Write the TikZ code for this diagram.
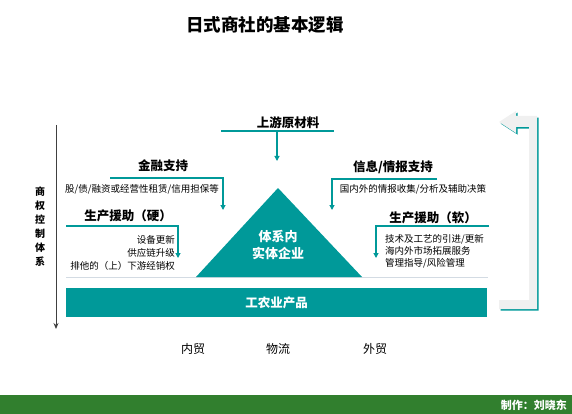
\documentclass[tikz,border=0pt]{standalone}
\usepackage{fontspec}
\setmainfont{Noto Sans CJK SC}
\usetikzlibrary{arrows.meta}
\definecolor{tealc}{HTML}{009999}
\definecolor{greenc}{HTML}{317F2E}
\definecolor{rulec}{HTML}{D3DBE3}
\definecolor{backc}{HTML}{F0F0F0}
\tikzset{
	ttl/.style={font=\fontsize{17.5}{20}\selectfont\bfseries, inner sep=0pt},
	head/.style={font=\fontsize{12.5}{15}\selectfont\bfseries, inner sep=0pt},
	body/.style={font=\fontsize{9.5}{13}\selectfont, inner sep=0pt},
	link/.style={draw=tealc, line width=1.1pt},
	linkarr/.style={link, -{Triangle[length=5pt,width=5pt]}},
	white label/.style={text=white, font=\fontsize{12.5}{17}\selectfont\bfseries, inner sep=0pt, align=center}
}
\begin{document}
\begin{tikzpicture}[x=1pt,y=-1pt]
	\useasboundingbox (0,0) rectangle (572,414);
	% title
	\node[ttl] (title) at (265,25) {日式商社的基本逻辑};
	% upstream
	\node[head] (up) at (288,123) {上游原材料};
	\coordinate (up-l) at (221,131);
	\coordinate (up-r) at (334,131);
	\coordinate (up-m) at (277,131);
	\coordinate (up-e) at (277,161);
	\draw[link] (up-l) -- (up-r);
	\draw[linkarr] (up-m) -- (up-e);
	% base rule and core triangle
	\draw[rulec, line width=1pt] (66,277) -- (488,277);
	\fill[tealc] (196,277) -- (278,188) -- (362,277) -- cycle;
	\node[white label, font=\fontsize{13}{17}\selectfont\bfseries] (core) at (278,245) {体系内\\实体企业};
	% product bar
	\node[fill=tealc, minimum width=421pt, minimum height=29pt, inner sep=0pt, text=white, font=\fontsize{12.5}{15}\selectfont\bfseries] (prod) at (276.5,302.5) {工农业产品};
	% finance
	\node[head] (fin) at (163,166) {金融支持};
	\coordinate (fin-l) at (110,178);
	\coordinate (fin-r) at (223,178);
	\coordinate (fin-e) at (223,210);
	\draw[linkarr] (fin-l) -- (fin-r) -- (fin-e);
	\node[body] (fin-t) at (142,189) {股/债/融资或经营性租赁/信用担保等};
	% hard support
	\node[head] (hard) at (128,216) {生产援助（硬）};
	\coordinate (hard-l) at (66,226);
	\coordinate (hard-r) at (178,226);
	\coordinate (hard-e) at (178,258);
	\draw[linkarr] (hard-l) -- (hard-r) -- (hard-e);
	\node[body, align=right, anchor=east] (hard-t) at (175,252.5) {设备更新\\供应链升级\\排他的（上）下游经销权};
	% information
	\node[head] (info) at (393,167) {信息/情报支持};
	\coordinate (info-r) at (437,179);
	\coordinate (info-l) at (332,179);
	\coordinate (info-e) at (332,210);
	\draw[linkarr] (info-r) -- (info-l) -- (info-e);
	\node[body] (info-t) at (413,189) {国内外的情报收集/分析及辅助决策};
	% soft support
	\node[head] (soft) at (433,218) {生产援助（软）};
	\coordinate (soft-r) at (489,226);
	\coordinate (soft-l) at (376,226);
	\coordinate (soft-e) at (376,258);
	\draw[linkarr] (soft-r) -- (soft-l) -- (soft-e);
	\node[body, align=left, anchor=west, font=\fontsize{9.5}{12}\selectfont] (soft-t) at (385,251) {技术及工艺的引进/更新\\海内外市场拓展服务\\管理指导/风险管理};
	% control axis
	\coordinate (ctl-s) at (56,125);
	\coordinate (ctl-e) at (56,329);
	\draw[black!75, line width=0.9pt, -{Stealth[length=6pt,width=5pt]}] (ctl-s) -- (ctl-e);
	\node[align=center, inner sep=0pt, font=\fontsize{10}{14}\selectfont\bfseries] (ctl) at (40,227) {商\\权\\控\\制\\体\\系};
	% return arrow
	\fill[tealc] ([shift={(1.6,1.6)}]499,122) -- ++(17,-11) -- ++(0,5) -- ++(21,0) -- ++(0,193) -- ++(-38,0) -- ++(0,-9) -- ++(30,0) -- ++(0,-173) -- ++(-13,0) -- ++(0,6) -- cycle;
	\fill[backc] (499,122) -- ++(17,-11) -- ++(0,5) -- ++(21,0) -- ++(0,193) -- ++(-38,0) -- ++(0,-9) -- ++(30,0) -- ++(0,-173) -- ++(-13,0) -- ++(0,6) -- cycle;
	% trade labels
	\node[font=\fontsize{12}{14}\selectfont, inner sep=0pt] (dom) at (193,349) {内贸};
	\node[font=\fontsize{12}{14}\selectfont, inner sep=0pt] (logi) at (278,349) {物流};
	\node[font=\fontsize{12}{14}\selectfont, inner sep=0pt] (fore) at (375,349) {外贸};
	% footer
	\fill[greenc] (0,395) rectangle (572,414);
	\node[anchor=east, text=white, inner sep=0pt, font=\fontsize{11}{13}\selectfont\bfseries] (credit) at (567,405) {制作：刘晓东};
\end{tikzpicture}
\end{document}
